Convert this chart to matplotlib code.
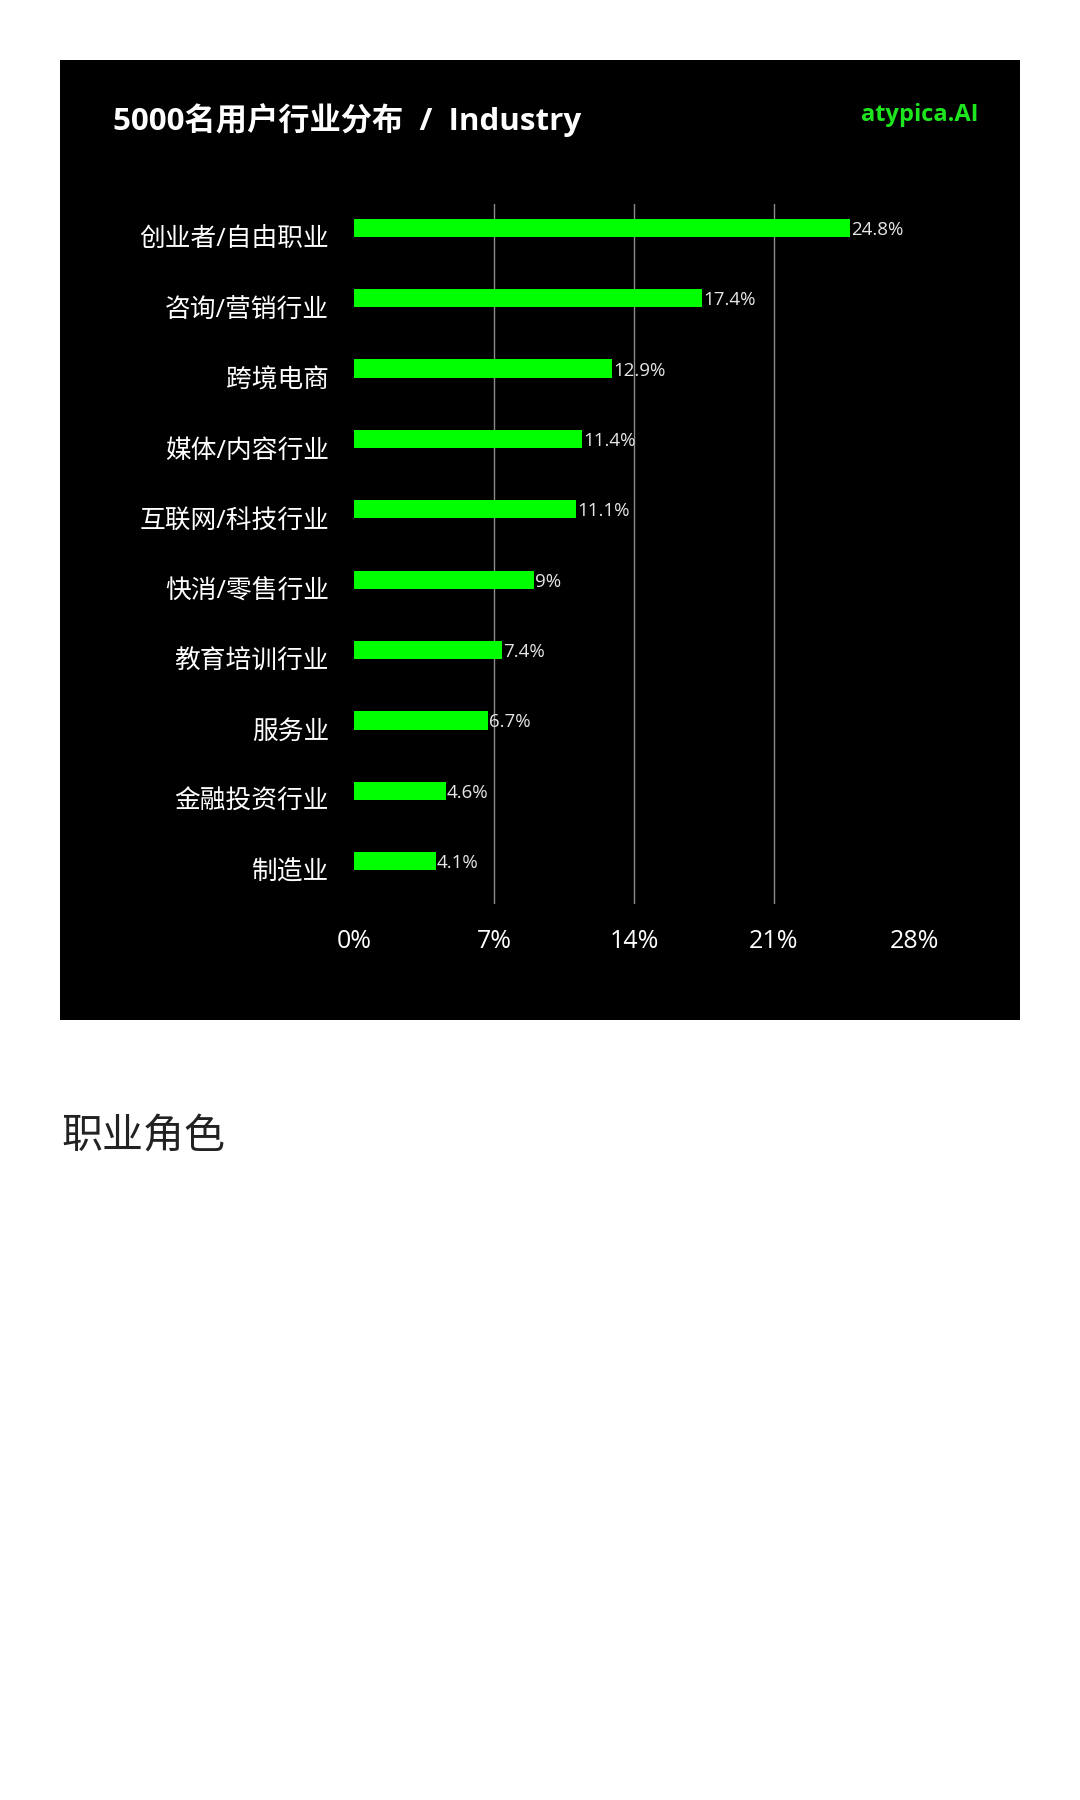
import matplotlib

matplotlib.use("Agg")
import matplotlib.pyplot as plt
from matplotlib.patches import Rectangle
from matplotlib.transforms import ScaledTranslation

plt.rcParams["font.family"] = ["Open Sans", "Noto Sans CJK SC", "DejaVu Sans"]

# data
industries = ["创业者/自由职业", "咨询/营销行业", "跨境电商", "媒体/内容行业", "互联网/科技行业",
              "快消/零售行业", "教育培训行业", "服务业", "金融投资行业", "制造业"]
shares = [24.8, 17.4, 12.9, 11.4, 11.1, 9, 7.4, 6.7, 4.6, 4.1]
share_labels = ["24.8%", "17.4%", "12.9%", "11.4%", "11.1%", "9%", "7.4%", "6.7%", "4.6%", "4.1%"]
x_ticks = [0, 7, 14, 21, 28]
x_tick_labels = ["0%", "7%", "14%", "21%", "28%"]
grid_at = [7, 14, 21]

W, H = 1080, 1800
fig = plt.figure(figsize=(W / 100, H / 100), dpi=100)
fig.patch.set_facecolor("white")

# black card behind the chart
fig.add_artist(Rectangle((60 / W, 1 - 1020 / H), 960 / W, 960 / H,
                         transform=fig.transFigure, facecolor="black",
                         edgecolor="none", zorder=0))

ax = fig.add_axes([354 / W, 1 - 904 / H, 560 / W, 700 / H])
ax.set_facecolor("none")
ax.set_zorder(2)

ypos = list(range(len(industries)))
ax.barh(ypos, shares, height=0.26, color="#00ff00", zorder=3)
for y, v, lab in zip(ypos, shares, share_labels):
    ax.text(v + 0.05, y + 0.03, lab, color="#e6e6e6", fontsize=13.5, va="center", ha="left", zorder=4)

for g in grid_at:
    ax.axvline(g, color="#8a8a8a", linewidth=1.0, zorder=1)

ax.set_xlim(0, 28)
ax.set_ylim(9.61, -0.34)
ax.set_xticks(x_ticks)
ax.set_xticklabels(x_tick_labels, color="white", fontsize=18)
ax.set_yticks(ypos)
ax.set_yticklabels(industries, color="white", fontsize=18.5)
ax.tick_params(axis="x", length=0, pad=18)
ax.tick_params(axis="y", length=0, pad=18)
shift = ScaledTranslation(0, -9 / 100, fig.dpi_scale_trans)
for lbl in ax.get_yticklabels():
    lbl.set_transform(lbl.get_transform() + shift)
for s in ax.spines.values():
    s.set_visible(False)

fig.text(113 / W, 1 - 120 / H, "5000名用户行业分布  /  Industry", color="white",
         fontsize=22.5, fontweight="bold", ha="left", va="center")
fig.text(978 / W, 1 - 115 / H, "atypica.AI", color="#1ee61e",
         fontsize=17, fontweight="bold", ha="right", va="center")

fig.text(61 / W, 1 - 1137 / H, "职业角色", color="#222222",
         fontsize=29.5, ha="left", va="center", family=["Noto Sans CJK SC"])

fig.savefig("out.png", dpi=100, facecolor="white")
